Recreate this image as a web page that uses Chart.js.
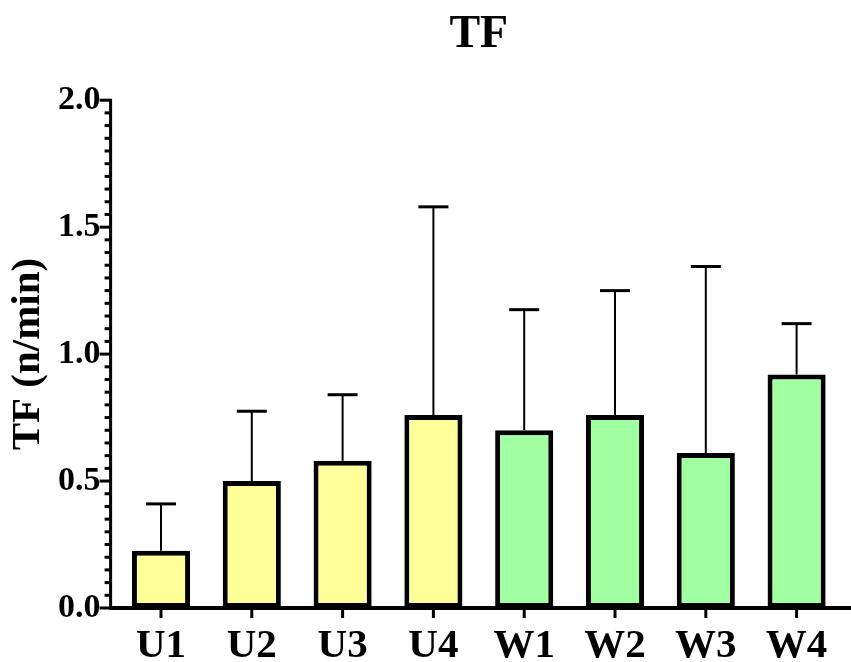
<!DOCTYPE html>
<html>
<head>
<meta charset="utf-8">
<title>TF</title>
<script src="https://cdn.jsdelivr.net/npm/chart.js@4/dist/chart.umd.min.js"></script>
<style>
  html, body { margin: 0; padding: 0; background: #ffffff; }
  #wrap { width: 851px; height: 662px; }
</style>
</head>
<body>
<div id="wrap"><canvas id="tfChart"></canvas></div>
<script>
// grupos e valores (média + desvio superior)
const grupos = ['U1', 'U2', 'U3', 'U4', 'W1', 'W2', 'W3', 'W4'];
const medias = [0.225, 0.50, 0.58, 0.76, 0.70, 0.76, 0.61, 0.92];
const desvios = [0.185, 0.275, 0.26, 0.82, 0.475, 0.49, 0.735, 0.20];
const coresBarra = ['#FFFF99', '#FFFF99', '#FFFF99', '#FFFF99', '#A0FFA0', '#A0FFA0', '#A0FFA0', '#A0FFA0'];
const ticksY = [0, 0.5, 1.0, 1.5, 2.0];

const serif = '"Liberation Serif", "DejaVu Serif", serif';

// barras de erro (só para cima) + eixos estilo Prism
const eixosPrism = {
  id: 'eixosPrism',
  afterDatasetsDraw(chart) {
    const ctx = chart.ctx;
    const meta = chart.getDatasetMeta(0);
    const y = chart.scales.y;
    ctx.save();
    ctx.strokeStyle = '#000';
    meta.data.forEach((bar, i) => {
      const topo = y.getPixelForValue(medias[i] + desvios[i]);
      ctx.lineWidth = 2;
      ctx.beginPath();
      ctx.moveTo(bar.x, bar.y);
      ctx.lineTo(bar.x, topo);
      ctx.stroke();
      ctx.lineWidth = 3;
      ctx.beginPath();
      ctx.moveTo(bar.x - 15, topo);
      ctx.lineTo(bar.x + 15, topo);
      ctx.stroke();
    });
    ctx.restore();
  },
  afterDraw(chart) {
    const ctx = chart.ctx;
    const area = chart.chartArea;
    const y = chart.scales.y;
    const x = chart.scales.x;
    const eixoX = area.left - 5;
    const base = y.getPixelForValue(0);
    ctx.save();
    ctx.strokeStyle = '#000';
    ctx.lineWidth = 3;
    ctx.lineCap = 'butt';
    // eixo Y
    ctx.beginPath();
    ctx.moveTo(eixoX, y.getPixelForValue(2.0) - 1.5);
    ctx.lineTo(eixoX, base + 1.5);
    ctx.stroke();
    // ticks menores a cada 0.05, maiores a cada 0.5
    for (let k = 0; k <= 40; k++) {
      const py = y.getPixelForValue(k * 0.05);
      const len = (k % 10 === 0) ? 11 : 6;
      ctx.beginPath();
      ctx.moveTo(eixoX, py);
      ctx.lineTo(eixoX - len, py);
      ctx.stroke();
    }
    // eixo X
    ctx.lineWidth = 4;
    ctx.beginPath();
    ctx.moveTo(eixoX - 1.5, base);
    ctx.lineTo(chart.width, base);
    ctx.stroke();
    ctx.lineWidth = 3;
    grupos.forEach((_, i) => {
      const px = x.getPixelForValue(i);
      ctx.beginPath();
      ctx.moveTo(px, base);
      ctx.lineTo(px, base + 10);
      ctx.stroke();
    });
    ctx.restore();
  }
};

const tfCtx = document.getElementById('tfChart').getContext('2d');
new Chart(tfCtx, {
  type: 'bar',
  data: {
    labels: grupos,
    datasets: [{
      data: medias,
      backgroundColor: coresBarra,
      borderColor: '#000000',
      borderWidth: 5,
      borderSkipped: false,
      barPercentage: 0.64,
      categoryPercentage: 1.0
    }]
  },
  options: {
    responsive: true,
    maintainAspectRatio: false,
    animation: false,
    layout: { padding: { left: 0, right: 9, top: 0, bottom: 0 } },
    plugins: {
      legend: { display: false },
      tooltip: { enabled: false },
      title: {
        display: true,
        text: 'TF',
        fullSize: false,
        color: '#000',
        font: { family: serif, size: 46, weight: 'bold' },
        padding: { top: 8, bottom: 37 }
      }
    },
    scales: {
      x: {
        offset: true,
        border: { display: false },
        grid: { display: false, drawTicks: false },
        ticks: {
          color: '#000',
          padding: 14,
          maxRotation: 0,
          font: { family: serif, size: 41, weight: 'bold' }
        },
        afterFit(scale) { scale.height = 54; }
      },
      y: {
        min: 0,
        max: 2.0,
        border: { display: false },
        grid: { display: false, drawTicks: false },
        afterBuildTicks(scale) {
          scale.ticks = ticksY.map(v => ({ value: v }));
        },
        ticks: {
          color: '#000',
          padding: 15,
          font: { family: serif, size: 34, weight: 'bold' },
          callback: function(value) { return Number(value).toFixed(1); }
        },
        title: {
          display: true,
          text: 'TF (n/min)',
          color: '#000',
          font: { family: serif, size: 41, weight: 'bold' },
          padding: { top: 4, bottom: 0 }
        },
        afterFit(scale) { scale.width = 115.6; }
      }
    }
  },
  plugins: [eixosPrism]
});
</script>
</body>
</html>
